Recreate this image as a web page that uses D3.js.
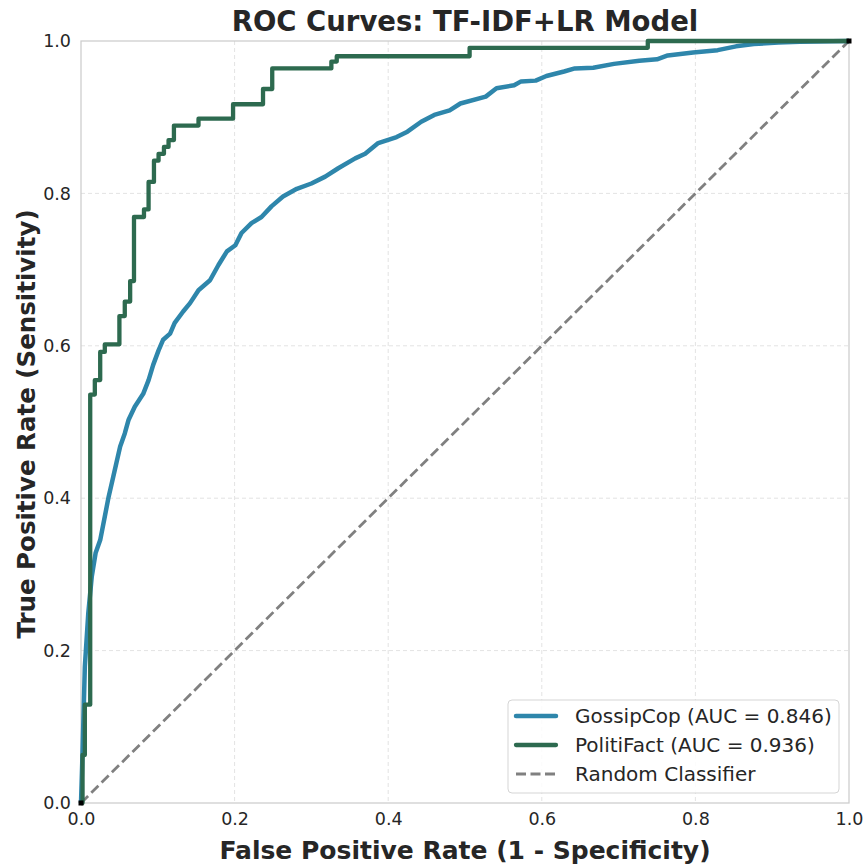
<!DOCTYPE html>
<html><head><meta charset="utf-8">
<script src="https://cdn.jsdelivr.net/npm/d3@7"></script>
<style>body{margin:0;background:#fff;} svg{display:block;font-family:"DejaVu Sans",sans-serif;}</style>
</head><body>
<svg id="c" width="867" height="868"></svg>
<script>
const xTicks = [0.0, 0.2, 0.4, 0.6, 0.8, 1.0];
const yTicks = [0.0, 0.2, 0.4, 0.6, 0.8, 1.0];
const seriesNames = ["GossipCop (AUC = 0.846)", "PolitiFact (AUC = 0.936)", "Random Classifier"];

const gossipFpr = [0, 0.002, 0.005, 0.0095, 0.014, 0.019, 0.025, 0.031, 0.036, 0.042, 0.046, 0.051, 0.057, 0.062, 0.070, 0.081, 0.088, 0.094, 0.101, 0.107, 0.116, 0.122, 0.133, 0.142, 0.153, 0.168, 0.179, 0.190, 0.201, 0.209, 0.222, 0.235, 0.248, 0.263, 0.281, 0.300, 0.318, 0.335, 0.357, 0.370, 0.387, 0.411, 0.425, 0.443, 0.460, 0.480, 0.494, 0.527, 0.541, 0.564, 0.573, 0.592, 0.606, 0.629, 0.643, 0.667, 0.694, 0.727, 0.750, 0.764, 0.797, 0.829, 0.853, 0.876, 0.908, 0.936, 1.0];
const gossipTpr = [0, 0.066, 0.179, 0.249, 0.297, 0.328, 0.345, 0.376, 0.402, 0.428, 0.446, 0.468, 0.485, 0.503, 0.520, 0.537, 0.555, 0.575, 0.594, 0.608, 0.616, 0.630, 0.645, 0.656, 0.673, 0.686, 0.706, 0.724, 0.732, 0.748, 0.761, 0.769, 0.783, 0.796, 0.806, 0.813, 0.822, 0.833, 0.846, 0.852, 0.866, 0.874, 0.881, 0.894, 0.903, 0.909, 0.918, 0.927, 0.938, 0.942, 0.947, 0.948, 0.954, 0.960, 0.964, 0.965, 0.970, 0.974, 0.976, 0.981, 0.985, 0.988, 0.993, 0.996, 0.998, 0.999, 1.0];

const politiFpr = [0, 0.002, 0.005, 0.012, 0.018, 0.025, 0.031, 0.050, 0.057, 0.064, 0.069, 0.082, 0.088, 0.095, 0.101, 0.108, 0.114, 0.121, 0.153, 0.198, 0.237, 0.249, 0.326, 0.333, 0.506, 0.738, 1.0];
const politiTpr = [0, 0.063, 0.129, 0.536, 0.555, 0.592, 0.602, 0.639, 0.658, 0.685, 0.769, 0.779, 0.815, 0.843, 0.852, 0.861, 0.870, 0.889, 0.898, 0.917, 0.937, 0.964, 0.973, 0.980, 0.991, 1.0, 1.0];

const diagX = [0, 1];
const diagY = [0, 1];

const colors = {gossip: "#2E86AB", politi: "#2D6A4F", diag: "#808080"};

const svg = d3.select("#c");
const L = 81, R = 849, T = 41, B = 803;
const x = d3.scaleLinear().domain([0, 1]).range([L, R]);
const y = d3.scaleLinear().domain([0, 1]).range([B, T]);

// grid
const g = svg.append("g");
g.selectAll(".gx").data(xTicks.slice(1, -1)).enter().append("line")
  .attr("x1", d => x(d)).attr("x2", d => x(d)).attr("y1", T).attr("y2", B)
  .attr("stroke", "#e3e3e3").attr("stroke-width", 1).attr("stroke-dasharray", "4,3");
g.selectAll(".gy").data(yTicks.slice(1, -1)).enter().append("line")
  .attr("y1", d => y(d)).attr("y2", d => y(d)).attr("x1", L).attr("x2", R)
  .attr("stroke", "#e3e3e3").attr("stroke-width", 1).attr("stroke-dasharray", "4,3");

// frame
svg.append("rect").attr("x", L).attr("y", T).attr("width", R - L).attr("height", B - T)
  .attr("fill", "none").attr("stroke", "#cccccc").attr("stroke-width", 1.25);

// axes
const xAxis = svg.append("g").attr("transform", `translate(0,${B})`)
  .call(d3.axisBottom(x).tickValues(xTicks).tickFormat(d3.format(".1f")).tickSize(0).tickPadding(10));
const yAxis = svg.append("g").attr("transform", `translate(${L},0)`)
  .call(d3.axisLeft(y).tickValues(yTicks).tickFormat(d3.format(".1f")).tickSize(0).tickPadding(10));
[xAxis, yAxis].forEach(a => {
  a.select(".domain").remove();
  a.selectAll("text").attr("font-family", "DejaVu Sans").attr("font-size", 17.5).attr("fill", "#262626");
});

// diagonal
svg.append("path").datum(diagX.map((d, i) => [d, diagY[i]]))
  .attr("d", d3.line().x(d => x(d[0])).y(d => y(d[1])))
  .attr("fill", "none").attr("stroke", colors.diag).attr("stroke-width", 2.8).attr("stroke-dasharray", "10,4.5");

// curves
svg.append("path").datum(gossipFpr.map((d, i) => [d, gossipTpr[i]]))
  .attr("d", d3.line().x(d => x(d[0])).y(d => y(d[1])))
  .attr("fill", "none").attr("stroke", colors.gossip).attr("stroke-width", 4.5).attr("stroke-linejoin", "round");
svg.append("path").datum(politiFpr.map((d, i) => [d, politiTpr[i]]))
  .attr("d", d3.line().curve(d3.curveStepAfter).x(d => x(d[0])).y(d => y(d[1])))
  .attr("fill", "none").attr("stroke", colors.politi).attr("stroke-width", 4.3).attr("stroke-linejoin", "round");

// corner markers
svg.selectAll(".mk").data(diagX.map((d, i) => [d, diagY[i]])).enter().append("rect")
  .attr("x", d => x(d[0]) - 2.5).attr("y", d => y(d[1]) - 2.5).attr("width", 5).attr("height", 5).attr("fill", "#000");

// title & labels
svg.append("text").attr("x", (L + R) / 2).attr("y", 31).attr("text-anchor", "middle")
  .attr("font-size", 27.5).attr("font-weight", "bold").attr("fill", "#262626").text("ROC Curves: TF-IDF+LR Model");
svg.append("text").attr("x", (L + R) / 2).attr("y", 859).attr("text-anchor", "middle")
  .attr("font-size", 25).attr("font-weight", "bold").attr("fill", "#262626").text("False Positive Rate (1 - Specificity)");
svg.append("text").attr("transform", `translate(35,${(T + B) / 2 + 2}) rotate(-90)`).attr("text-anchor", "middle")
  .attr("font-size", 24.5).attr("font-weight", "bold").attr("fill", "#262626").text("True Positive Rate (Sensitivity)");

// legend
const lg = svg.append("g");
lg.append("rect").attr("x", 508).attr("y", 700).attr("width", 331).attr("height", 93).attr("rx", 4)
  .attr("fill", "#fff").attr("fill-opacity", 0.85).attr("stroke", "#d5d5d5").attr("stroke-width", 1);
const items = [
  {name: seriesNames[0], color: colors.gossip, dash: null, w: 4.5},
  {name: seriesNames[1], color: colors.politi, dash: null, w: 4.3},
  {name: seriesNames[2], color: colors.diag, dash: "10,4.5", w: 2.8}
];
items.forEach((it, i) => {
  const yy = 716 + i * 29;
  lg.append("line").attr("x1", 516).attr("x2", 556).attr("y1", yy).attr("y2", yy)
    .attr("stroke", it.color).attr("stroke-width", it.w).attr("stroke-dasharray", it.dash).attr("stroke-linecap", it.dash ? "butt" : "round");
  lg.append("text").attr("x", 575).attr("y", yy + 7).attr("font-size", 20).attr("fill", "#262626").text(it.name);
});
</script>
</body></html>
